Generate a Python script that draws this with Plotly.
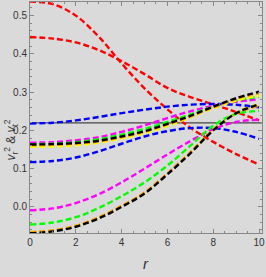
import plotly.graph_objects as go

r = [0, 1, 2, 3, 4, 5, 6, 7, 8, 9, 10]

red_1 = [0.537, 0.530, 0.500, 0.445, 0.375, 0.310, 0.255, 0.207, 0.170, 0.138, 0.111]
red_2 = [0.444, 0.440, 0.430, 0.410, 0.381, 0.347, 0.311, 0.287, 0.268, 0.248, 0.226]
blue_1 = [0.218, 0.220, 0.226, 0.235, 0.245, 0.254, 0.262, 0.267, 0.269, 0.267, 0.260]
blue_2 = [0.117, 0.120, 0.129, 0.145, 0.165, 0.184, 0.198, 0.206, 0.206, 0.196, 0.178]
magenta_1 = [0.168, 0.169, 0.174, 0.182, 0.196, 0.213, 0.232, 0.250, 0.264, 0.275, 0.281]
green_1 = [0.164, 0.165, 0.169, 0.177, 0.189, 0.204, 0.222, 0.242, 0.262, 0.278, 0.288]
yellow_1 = [0.157, 0.158, 0.161, 0.168, 0.179, 0.193, 0.212, 0.234, 0.258, 0.278, 0.291]
orange_1 = [0.161, 0.162, 0.165, 0.171, 0.182, 0.196, 0.215, 0.236, 0.260, 0.282, 0.297]
black_1 = [0.163, 0.164, 0.167, 0.173, 0.184, 0.198, 0.217, 0.238, 0.262, 0.284, 0.301]
magenta_2 = [-0.009, -0.004, 0.010, 0.033, 0.064, 0.100, 0.137, 0.172, 0.203, 0.222, 0.228]
green_2 = [-0.046, -0.041, -0.027, -0.003, 0.028, 0.064, 0.108, 0.160, 0.212, 0.243, 0.251]
yellow_2 = [-0.068, -0.063, -0.051, -0.029, 0.001, 0.036, 0.086, 0.141, 0.201, 0.246, 0.269]
orange_2 = [-0.066, -0.061, -0.049, -0.027, 0.003, 0.038, 0.088, 0.143, 0.202, 0.244, 0.264]
black_2 = [-0.069, -0.064, -0.052, -0.030, 0.000, 0.035, 0.085, 0.140, 0.200, 0.245, 0.268]

h_line = 0.2195

x_ticks = [0, 2, 4, 6, 8, 10]
x_tick_labels = ["0", "2", "4", "6", "8", "10"]
y_ticks = [0.0, 0.1, 0.2, 0.3, 0.4, 0.5]
y_tick_labels = ["0.0", "0.1", "0.2", "0.3", "0.4", "0.5"]

series = [
    (red_1, "#ff0000"), (red_2, "#ff0000"),
    (blue_1, "#0000ff"), (blue_2, "#0000ff"),
    (magenta_1, "#ff00ff"), (magenta_2, "#ff00ff"),
    (green_1, "#00ff00"), (green_2, "#00ff00"),
    (yellow_1, "#ffff00"), (yellow_2, "#ffff00"),
    (orange_1, "#ffa500"), (orange_2, "#ffa500"),
    (black_1, "#000000"), (black_2, "#000000"),
]

fig = go.Figure()
fig.add_hline(y=h_line, line=dict(color="#444444", width=1.2), layer="below")
for vals, col in series:
    fig.add_trace(go.Scatter(
        x=r, y=vals, mode="lines", line_shape="spline",
        line=dict(color=col, width=2.4, dash="6px,3px"),
        showlegend=False, hoverinfo="skip"))

bg = "#dadada"
axis_common = dict(
    showgrid=False, zeroline=False, showline=True, linecolor="#888888",
    linewidth=1, mirror="ticks", ticks="inside", ticklen=4, tickcolor="#888888",
    ticklabeloverflow="allow",
    tickfont=dict(family="Liberation Sans", size=10, color="#333333"),
)
fig.update_layout(
    width=266, height=277,
    paper_bgcolor=bg, plot_bgcolor=bg,
    margin=dict(l=30, r=2, t=1, b=44),
    xaxis=dict(range=[0, 10.13], tickvals=x_ticks, ticktext=x_tick_labels,
               minor=dict(dtick=0.5, ticks="inside", ticklen=2, tickcolor="#888888"),
               **axis_common),
    yaxis=dict(range=[-0.0683, 0.5356], tickvals=y_ticks, ticktext=y_tick_labels,
               minor=dict(dtick=0.02, ticks="inside", ticklen=2, tickcolor="#888888"),
               **axis_common),
    annotations=[
        dict(text="<i>r</i>", xref="paper", yref="paper", x=0.5, y=0,
             yshift=-30, showarrow=False, yanchor="middle",
             font=dict(family="Liberation Sans", size=15, color="#333333")),
        dict(text="<i>v</i><sub>r</sub><sup>2</sup> & <i>v</i><sub>t</sub><sup>2</sup>",
             xref="paper", yref="paper", x=0, y=0.40, xshift=-19,
             textangle=-90, showarrow=False, xanchor="center", yanchor="middle",
             font=dict(family="Liberation Sans", size=12, color="#333333")),
    ],
)

fig.write_html(
    "out.html",
    config={"displayModeBar": False, "staticPlot": True},
    post_script="document.body.style.margin='0';document.body.style.overflow='hidden';",
)
